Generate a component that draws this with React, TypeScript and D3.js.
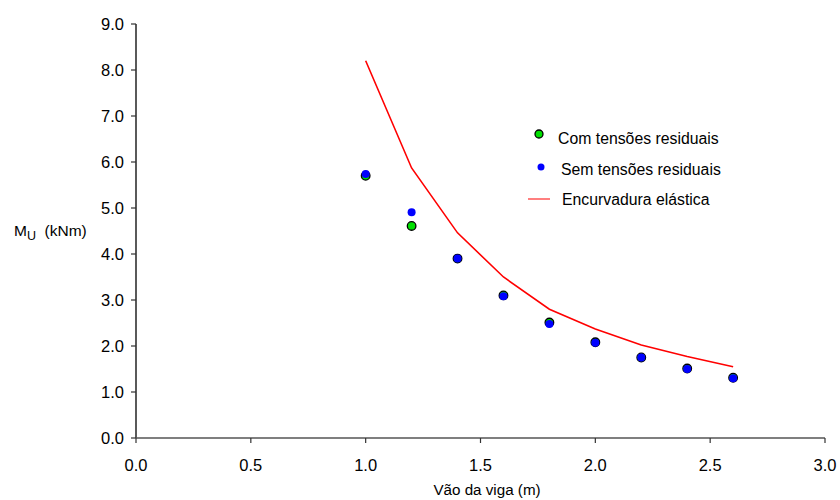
import React from "react";
import * as d3 from "d3";

const spans = [1.0, 1.2, 1.4, 1.6, 1.8, 2.0, 2.2, 2.4, 2.6];
const comTensoes = [5.7, 4.61, 3.9, 3.1, 2.51, 2.08, 1.75, 1.51, 1.31];
const semTensoes = [5.74, 4.91, 3.9, 3.08, 2.48, 2.07, 1.75, 1.5, 1.3];
const elastica = [8.2, 5.87, 4.46, 3.5, 2.8, 2.37, 2.02, 1.77, 1.55];
const xTicks = [0, 0.5, 1.0, 1.5, 2.0, 2.5, 3.0];
const yTicks = [0, 1, 2, 3, 4, 5, 6, 7, 8, 9];

export default function App() {
  const W = 840, H = 500;
  const x = d3.scaleLinear().domain([0, 3]).range([136, 825]);
  const y = d3.scaleLinear().domain([0, 9]).range([438, 24]);
  const line = d3.line<number>().x((_, i) => x(spans[i])).y((d) => y(d));
  const font = "Liberation Sans, Arial, sans-serif";
  return (
    <svg width={W} height={H} style={{ position: "absolute", left: 0, top: 0, background: "#fff" }} fontFamily={font}>
      <line x1={136} x2={136} y1={24} y2={438} stroke="#000" strokeWidth={1.3} />
      <line x1={136} x2={825} y1={438} y2={438} stroke="#555" strokeWidth={1.5} />
      {yTicks.map((t) => (
        <g key={t}>
          <line x1={131} x2={136} y1={y(t)} y2={y(t)} stroke="#333" strokeWidth={1.2} />
          <text x={124} y={y(t) + 6} textAnchor="end" fontSize={16.5}>{t.toFixed(1)}</text>
        </g>
      ))}
      {xTicks.map((t) => (
        <g key={t}>
          <line x1={x(t)} x2={x(t)} y1={438} y2={443} stroke="#333" strokeWidth={1.2} />
          <text x={x(t)} y={471} textAnchor="middle" fontSize={16.5}>{t.toFixed(1)}</text>
        </g>
      ))}
      <text x={487} y={495} textAnchor="middle" fontSize={15.2}>Vão da viga (m)</text>
      <text x={14} y={236} fontSize={15.5} style={{ whiteSpace: "pre" }}>
        M<tspan fontSize={12.5} dy={4}>U</tspan><tspan dy={-4}>{"  (kNm)"}</tspan>
      </text>
      <path d={line(elastica) || ""} fill="none" stroke="#ff0000" strokeWidth={1.6} />
      {comTensoes.map((v, i) => (
        <circle key={"c" + i} cx={x(spans[i])} cy={y(v)} r={4.3} fill="#00e000" stroke="#000" strokeWidth={1.3} />
      ))}
      {semTensoes.map((v, i) => (
        <circle key={"s" + i} cx={x(spans[i])} cy={y(v)} r={4} fill="#0000ff" />
      ))}
      <circle cx={539} cy={134} r={4} fill="#00e000" stroke="#000" strokeWidth={1.3} />
      <text x={558} y={144} fontSize={15.8}>Com tensões residuais</text>
      <circle cx={541} cy={167} r={3.5} fill="#0000ff" />
      <text x={561} y={174.5} fontSize={15.8}>Sem tensões residuais</text>
      <line x1={528} x2={550} y1={199} y2={199} stroke="#ff5555" strokeWidth={1.5} />
      <text x={562} y={205} fontSize={15.8}>Encurvadura elástica</text>
    </svg>
  );
}
